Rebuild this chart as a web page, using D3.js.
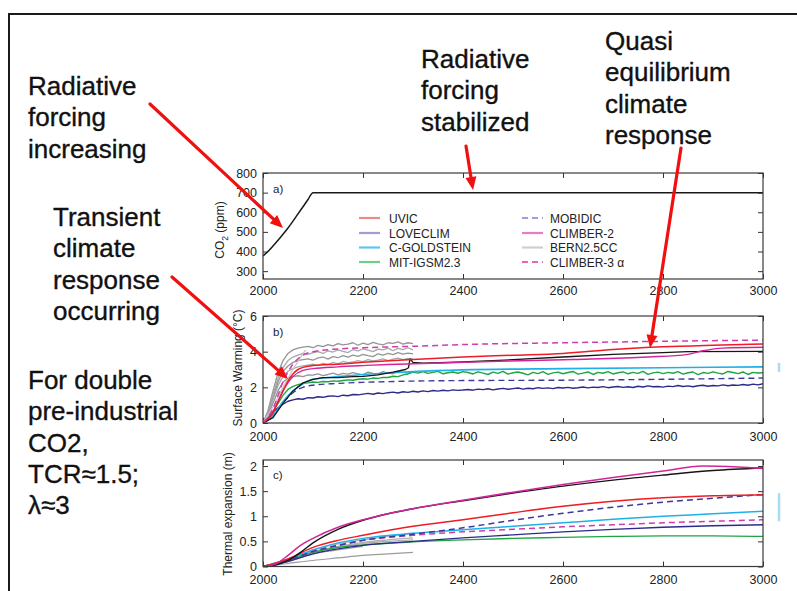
<!DOCTYPE html>
<html><head><meta charset="utf-8">
<script src="https://cdn.jsdelivr.net/npm/d3@7"></script>
<style>
body{margin:0;background:#fff}
svg{display:block}
text{font-family:"Liberation Sans",Arial,Helvetica,sans-serif}
</style>
</head><body>
<svg id="c" width="797" height="591"></svg>
<script>
// ---------------- DATA ----------------
const xTicks = [2000, 2200, 2400, 2600, 2800, 3000];
const co2Ticks = [300, 400, 500, 600, 700, 800];
const warmTicks = [0, 2, 4, 6];
const thermTicks = [0, 0.5, 1, 1.5, 2];

// panel a: CO2 (ppm)
const co2Years  = [2000, 2010, 2020, 2030, 2040, 2050, 2060, 2070, 2080, 2090, 2100, 3000];
const co2Values = [378, 400, 428, 457, 488, 520, 555, 592, 628, 665, 700, 700];

// panel b: surface warming, smooth series (years / values)
const uvicWYears = [2000, 2020, 2030, 2040, 2050, 2060, 2070, 2080, 2100, 2150, 2200, 2290, 2400, 2500, 2600, 2700, 2800, 2900, 3000];
const uvicW      = [0, 0.6, 1.2, 1.8, 2.35, 2.75, 3.0, 3.12, 3.22, 3.3, 3.4, 3.55, 3.7, 3.8, 3.9, 4.12, 4.27, 4.36, 4.43];
const climber2WYears = [2000, 2020, 2040, 2060, 2080, 2100, 2150, 2200, 2250, 2300, 2470, 2620, 2770, 2850, 2880, 2920, 3000];
const climber2W      = [0, 0.6, 1.8, 2.6, 2.95, 3.05, 3.15, 3.22, 3.28, 3.32, 3.46, 3.56, 3.7, 3.85, 4.05, 4.2, 4.25];
const climber3WYears = [2000, 2020, 2040, 2060, 2080, 2100, 2150, 2200, 2300, 2400, 2600, 2800, 3000];
const climber3W      = [0, 0.8, 2.3, 3.3, 3.8, 4.0, 4.15, 4.22, 4.3, 4.4, 4.5, 4.58, 4.65];
const goldWYears = [2000, 2020, 2040, 2060, 2080, 2100, 2150, 2200, 2250, 2300, 2400, 2600, 2800, 3000];
const goldW      = [0, 0.4, 1.2, 1.8, 2.2, 2.45, 2.6, 2.72, 2.8, 2.88, 2.98, 3.05, 3.1, 3.15];
const mobidicWYears = [2000, 2020, 2040, 2060, 2080, 2100, 2150, 2200, 2300, 2400, 2600, 2800, 3000];
const mobidicW      = [0, 0.45, 1.15, 1.7, 2.0, 2.12, 2.22, 2.28, 2.35, 2.38, 2.4, 2.45, 2.52];
const blackWYears = [2000, 2020, 2040, 2060, 2080, 2100, 2120, 2150, 2180, 2200, 2230, 2260, 2285, 2291, 2294, 2300, 2320, 2400, 2500, 2600, 2700, 2800, 2850, 3000];
const blackW      = [0, 0.3, 1.1, 1.8, 2.25, 2.45, 2.55, 2.55, 2.6, 2.62, 2.7, 2.85, 3.0, 3.1, 3.6, 3.4, 3.35, 3.42, 3.55, 3.7, 3.85, 3.95, 4.0, 4.02];

// panel b: noisy series, every 10 years from 2000
const loveclimW = [0.00,0.25,0.62,0.85,1.05,1.22,1.30,1.36,1.33,1.42,1.40,1.47,1.44,1.50,1.52,1.48,1.56,1.53,1.60,1.58,1.62,1.66,1.61,1.68,1.65,1.70,1.73,1.68,1.75,1.72,1.78,
  1.74,1.80,1.76,1.82,1.79,1.84,1.80,1.86,1.83,1.85,
  1.88,1.84,1.90,1.87,1.92,1.86,1.91,1.94,1.89,1.93,
  1.96,1.90,1.95,1.92,1.98,1.94,1.97,1.93,1.99,1.96,
  2.00,1.95,1.98,2.02,1.97,2.01,1.99,2.04,1.98,2.02,
  2.05,2.00,2.03,1.99,2.06,2.02,2.08,2.03,2.05,2.01,
  2.07,2.04,2.10,2.05,2.08,2.03,2.09,2.12,2.06,2.10,
  2.08,2.14,2.09,2.13,2.11,2.16,2.12,2.18,2.14,2.20];
const mitW = [0.00,0.25,0.65,1.10,1.55,1.88,2.05,2.15,2.22,2.25,2.30,2.28,2.33,2.31,2.36,2.34,2.38,2.42,2.40,2.45,2.48,2.46,2.52,2.50,2.56,2.55,2.62,2.60,2.70,2.75,2.85,
  2.80,2.88,2.78,2.84,2.90,2.76,2.82,2.86,2.79,2.88,
  2.83,2.75,2.87,2.80,2.72,2.85,2.78,2.90,2.74,2.82,
  2.86,2.79,2.70,2.84,2.77,2.88,2.73,2.81,2.85,2.76,
  2.83,2.89,2.74,2.80,2.86,2.72,2.84,2.79,2.88,2.75,
  2.82,2.87,2.76,2.84,2.78,2.90,2.73,2.81,2.85,2.77,
  2.84,2.79,2.88,2.74,2.82,2.86,2.71,2.83,2.78,2.87,
  2.80,2.75,2.89,2.83,2.77,2.86,2.72,2.84,2.80,2.82];
// BERN2.5CC ensemble (2000-2300, every 10 years)
const bernW1 = [0,0.7,1.8,2.8,3.5,3.9,4.1,4.2,4.25,4.3,4.22,4.35,4.28,4.4,4.32,4.45,4.38,4.42,4.5,4.36,4.48,4.4,4.52,4.44,4.38,4.5,4.46,4.55,4.42,4.5,4.45];
const bernW2 = [0,0.6,1.6,2.5,3.1,3.5,3.7,3.8,3.9,3.85,3.95,4.0,3.9,4.05,3.98,4.1,4.02,3.95,4.12,4.05,4.15,4.08,4.0,4.14,4.1,4.2,4.05,4.18,4.12,4.22,4.1];
const bernW3 = [0,0.5,1.4,2.3,2.9,3.2,3.4,3.5,3.55,3.6,3.52,3.65,3.7,3.58,3.72,3.66,3.78,3.7,3.8,3.74,3.85,3.78,3.72,3.88,3.8,3.9,3.84,3.95,3.86,3.92,3.88];
const bernW4 = [0,0.45,1.3,2.1,2.6,2.9,3.05,3.15,3.2,3.25,3.3,3.22,3.35,3.28,3.4,3.32,3.45,3.38,3.42,3.5,3.44,3.55,3.48,3.52,3.6,3.5,3.58,3.64,3.55,3.62,3.6];
const bernW5 = [0,0.4,1.1,1.8,2.3,2.5,2.6,2.65,2.6,2.7,2.68,2.75,2.66,2.72,2.8,2.7,2.78,2.74,2.82,2.76,2.7,2.85,2.78,2.74,2.88,2.8,2.76,2.9,2.84,2.8,2.86];
const bernSteepYears = [2000, 2020, 2040, 2060, 2080, 2086];
const bernSteep      = [0, 0.9, 2.0, 3.0, 3.9, 4.1];

// panel c: thermal expansion (m)
const thermYears = [2000, 2050, 2100, 2150, 2200, 2300, 2400, 2500, 2600, 2700, 2800, 2900, 3000];
const uvicT     = [0, 0.15, 0.38, 0.52, 0.62, 0.80, 0.93, 1.07, 1.20, 1.30, 1.37, 1.41, 1.43];
const mobidicT  = [0, 0.12, 0.30, 0.42, 0.52, 0.64, 0.77, 0.92, 1.06, 1.18, 1.28, 1.36, 1.43];
const goldT     = [0, 0.14, 0.33, 0.47, 0.56, 0.66, 0.73, 0.80, 0.87, 0.94, 1.00, 1.05, 1.10];
const climber3T = [0, 0.12, 0.30, 0.42, 0.52, 0.62, 0.69, 0.74, 0.79, 0.83, 0.87, 0.90, 0.93];
const loveclimT = [0, 0.10, 0.25, 0.35, 0.42, 0.50, 0.57, 0.63, 0.69, 0.74, 0.78, 0.81, 0.83];
const mitT      = [0, 0.12, 0.28, 0.38, 0.43, 0.49, 0.53, 0.56, 0.58, 0.60, 0.61, 0.61, 0.60];
const climber2TYears = [2000, 2025, 2050, 2075, 2100, 2150, 2200, 2250, 2300, 2400, 2500, 2600, 2700, 2800, 2880, 2950, 3000];
const climber2T      = [0, 0.05, 0.22, 0.42, 0.56, 0.78, 0.93, 1.05, 1.15, 1.32, 1.48, 1.63, 1.77, 1.90, 2.00, 1.98, 1.95];
const blackTYears = [2000, 2025, 2050, 2075, 2100, 2150, 2200, 2250, 2300, 2400, 2500, 2600, 2700, 2800, 2900, 3000];
const blackT      = [0, 0.03, 0.12, 0.28, 0.47, 0.74, 0.92, 1.05, 1.15, 1.31, 1.46, 1.60, 1.72, 1.82, 1.91, 1.96];
const bernTYears = [2000, 2050, 2100, 2150, 2200, 2250, 2300];
const bernT1 = [0, 0.15, 0.33, 0.45, 0.53, 0.60, 0.66];
const bernT2 = [0, 0.13, 0.30, 0.40, 0.48, 0.53, 0.57];
const bernT3 = [0, 0.12, 0.28, 0.38, 0.46, 0.50, 0.53];
const bernT4 = [0, 0.06, 0.12, 0.17, 0.22, 0.25, 0.28];
const bernT5Years = [2000, 2050, 2100, 2150, 2200];
const bernT5 = [0, 0.10, 0.25, 0.33, 0.40];

// light-blue range marks at the right of panels b and c
const rangeB = [2.86, 3.37];
const rangeC = [0.9, 1.46];

// legend
const legendNames = ["UVIC", "LOVECLIM", "C-GOLDSTEIN", "MIT-IGSM2.3", "MOBIDIC", "CLIMBER-2", "BERN2.5CC", "CLIMBER-3 \u03b1"];
const legendColors = ["#f08a8a", "#a49cd6", "#5cc6f0", "#6fcf86", "#a49cd6", "#e87cc6", "#cfcfcf", "#e466c4"];
const legendDashed = [false, false, false, false, true, false, false, true];

// annotations
const notes = [
  {lines: ["Radiative", "forcing", "increasing"], x: 28, y: 95},
  {lines: ["Radiative", "forcing", "stabilized"], x: 421, y: 68},
  {lines: ["Quasi", "equilibrium", "climate", "response"], x: 605, y: 50},
  {lines: ["Transient", "climate", "response", "occurring"], x: 53, y: 226},
  {lines: ["For double", "pre-industrial", "CO2,", "TCR\u22481.5;", "\u03bb\u22483"], x: 28, y: 389}
];
const arrows = [
  {from: [150, 104], to: [283, 228]},
  {from: [466, 146], to: [473, 190]},
  {from: [681, 148], to: [650, 348]},
  {from: [172, 277], to: [288, 379]}
];

// ---------------- DRAW ----------------
const svg = d3.select("#c");
const C = {red: "#ee1c24", navy: "#2d2a8c", blue: "#3b3a9c", cyan: "#1fb0ea", green: "#1fa444",
           mag: "#d4249c", mag3: "#d03cb0", gray: "#9a9a9a", black: "#151515"};

const x = d3.scaleLinear().domain([2000, 3000]).range([263, 763]);
const zip = (ys, vs) => ys.map((yr, i) => [yr, vs[i]]);
const every10 = (vs) => vs.map((v, i) => [2000 + 10 * i, v]);

// outer slide frame
svg.append("path").attr("d", "M9,591 L9,14 L797,14").attr("fill", "none").attr("stroke", "#1a1a1a").attr("stroke-width", 2);

function panel(id, y0, y1, domain, ticks, fmt, xPad) {
  const y = d3.scaleLinear().domain(domain).range([y0, y1]);
  const g = svg.append("g");
  const axStyle = sel => { sel.select(".domain").remove();
    sel.selectAll("line").attr("stroke", "#333");
    sel.selectAll("text").attr("font-size", "12.5px").attr("fill", "#222")
       .attr("font-family", '"Liberation Sans",Arial,sans-serif'); };
  g.append("g").attr("transform", `translate(0,${y0})`)
    .call(d3.axisBottom(x).tickValues(xTicks).tickSize(-5).tickSizeOuter(0).tickPadding(xPad).tickFormat(d3.format("d"))).call(axStyle);
  g.append("g").attr("transform", `translate(0,${y1})`)
    .call(d3.axisTop(x).tickValues(xTicks).tickSize(-5).tickSizeOuter(0).tickFormat("")).call(axStyle);
  g.append("g").attr("transform", `translate(${x(2000)},0)`)
    .call(d3.axisLeft(y).tickValues(ticks).tickSize(-5).tickSizeOuter(0).tickPadding(6).tickFormat(fmt)).call(axStyle);
  g.append("g").attr("transform", `translate(${x(3000)},0)`)
    .call(d3.axisRight(y).tickValues(ticks).tickSize(-5).tickSizeOuter(0).tickFormat("")).call(axStyle);
  svg.append("clipPath").attr("id", "clip" + id).append("rect")
    .attr("x", x(2000)).attr("y", y1).attr("width", x(3000) - x(2000)).attr("height", y0 - y1);
  const lg = svg.append("g").attr("clip-path", `url(#clip${id})`);
  const draw = (pts, color, opts = {}) => {
    const line = d3.line().x(d => x(d[0])).y(d => y(d[1])).curve(opts.linear ? d3.curveLinear : d3.curveMonotoneX);
    lg.append("path").datum(pts).attr("d", line).attr("fill", "none")
      .attr("stroke", color).attr("stroke-width", opts.w || 1.4)
      .attr("stroke-dasharray", opts.dash ? "6,4" : null)
      .attr("stroke-linejoin", "round").attr("opacity", opts.op || 1);
  };
  const frame = () => svg.append("rect").attr("x", x(2000)).attr("y", y1)
      .attr("width", x(3000) - x(2000)).attr("height", y0 - y1)
      .attr("fill", "none").attr("stroke", "#3a3a3a").attr("stroke-width", 1.2);
  return {y, draw, frame, g};
}

// ---- panel a
const pa = panel("a", 279, 173, [260, 800], co2Ticks, d3.format("d"), 7);
pa.draw(zip(co2Years, co2Values), "#1a1a1a", {linear: false, w: 1.5});
pa.frame();
svg.append("text").attr("x", 273).attr("y", 193).attr("font-size", "11.5px").attr("fill", "#222").text("a)");
const ta = svg.append("text").attr("transform", "translate(224,230) rotate(-90)").attr("text-anchor", "middle")
  .attr("font-size", "12px").attr("fill", "#222");
ta.append("tspan").text("CO");
ta.append("tspan").attr("font-size", "8.5px").attr("dy", 4).text("2");
ta.append("tspan").attr("dy", -4).text(" (ppm)");

// legend
const legRows = [218, 233, 247.5, 262];
legendNames.forEach((n, i) => {
  const col = i < 4 ? 0 : 1, row = i % 4;
  const lx = col ? 522 : 359, tx = col ? 550 : 389;
  svg.append("line").attr("x1", lx).attr("x2", lx + 21).attr("y1", legRows[row]).attr("y2", legRows[row])
    .attr("stroke", legendColors[i]).attr("stroke-width", 2.2).attr("stroke-dasharray", legendDashed[i] ? "6,4" : null);
  svg.append("text").attr("x", tx).attr("y", legRows[row] + 4.5).attr("font-size", "12px").attr("fill", "#222").text(n);
});

// ---- panel b
const pb = panel("b", 423, 316, [0, 6], warmTicks, d3.format("d"), 9);
[bernW1, bernW2, bernW3, bernW4, bernW5].forEach((s, i) => pb.draw(every10(s), i % 2 ? "#a8a8a8" : "#959595", {linear: true, w: 1.3}));
pb.draw(zip(bernSteepYears, bernSteep), "#c8c8c8", {linear: true, w: 1.3});
pb.draw(every10(loveclimW), C.navy, {linear: true, w: 1.4});
pb.draw(every10(mitW), C.green, {linear: true, w: 1.4});
pb.draw(zip(mobidicWYears, mobidicW), C.blue, {dash: true, w: 1.4});
pb.draw(zip(goldWYears, goldW), C.cyan, {w: 1.6});
pb.draw(zip(blackWYears, blackW), C.black, {linear: true, w: 1.3});
pb.draw(zip(climber2WYears, climber2W), C.mag, {w: 1.4});
pb.draw(zip(uvicWYears, uvicW), C.red, {w: 1.5});
pb.draw(zip(climber3WYears, climber3W), C.mag3, {dash: true, w: 1.5});
pb.frame();
svg.append("text").attr("x", 273).attr("y", 336).attr("font-size", "11.5px").attr("fill", "#222").text("b)");
svg.append("text").attr("transform", "translate(242,368) rotate(-90)").attr("text-anchor", "middle")
  .attr("font-size", "12px").attr("fill", "#222").text("Surface Warming (\u00b0C)");

// ---- panel c
const pc = panel("c", 566.5, 460, [0, 2.12], thermTicks, d3.format("~g"), 9);
[bernT1, bernT2, bernT3].forEach(s => pc.draw(zip(bernTYears, s), "#b0b0b0", {w: 1.3}));
pc.draw(zip(bernTYears, bernT4), "#9c9c9c", {w: 1.2});
pc.draw(zip(bernT5Years, bernT5), "#a0a0a0", {w: 1.2});
pc.draw(zip(thermYears, mitT), C.green, {w: 1.4});
pc.draw(zip(thermYears, loveclimT), C.navy, {w: 1.4});
pc.draw(zip(thermYears, climber3T), C.mag3, {dash: true, w: 1.5});
pc.draw(zip(thermYears, goldT), C.cyan, {w: 1.5});
pc.draw(zip(thermYears, mobidicT), C.blue, {dash: true, w: 1.5});
pc.draw(zip(thermYears, uvicT), C.red, {w: 1.5});
pc.draw(zip(blackTYears, blackT), C.black, {w: 1.4});
pc.draw(zip(climber2TYears, climber2T), C.mag, {w: 1.5});
pc.frame();
svg.append("text").attr("x", 273).attr("y", 479).attr("font-size", "11.5px").attr("fill", "#222").text("c)");
svg.append("text").attr("transform", "translate(232,514) rotate(-90)").attr("text-anchor", "middle")
  .attr("font-size", "12px").attr("fill", "#222").text("Thermal expansion (m)");

// light blue marks at the right
svg.append("line").attr("x1", 779).attr("x2", 779).attr("y1", pb.y(rangeB[0])).attr("y2", pb.y(rangeB[1])).attr("stroke", "#a6dcf4").attr("stroke-width", 2.5);
svg.append("line").attr("x1", 779).attr("x2", 779).attr("y1", pc.y(rangeC[0])).attr("y2", pc.y(rangeC[1])).attr("stroke", "#a6dcf4").attr("stroke-width", 2.5);

// annotations
notes.forEach(n => {
  const t = svg.append("text").attr("x", n.x).attr("y", n.y).attr("font-size", "26px").attr("fill", "#111")
    .attr("stroke", "#111").attr("stroke-width", 0.35);
  n.lines.forEach((l, i) => t.append("tspan").attr("x", n.x).attr("y", n.y + i * 31.3).text(l));
});

// red arrows
arrows.forEach(a => {
  const [x0, y0] = a.from, [x1, y1] = a.to;
  const ang = Math.atan2(y1 - y0, x1 - x0), L = 13, W = 5.5;
  const bx = x1 - L * Math.cos(ang), by = y1 - L * Math.sin(ang);
  svg.append("line").attr("x1", x0).attr("y1", y0).attr("x2", bx).attr("y2", by)
    .attr("stroke", "#f01010").attr("stroke-width", 3.2).attr("stroke-linecap", "round");
  const px = -Math.sin(ang) * W, py = Math.cos(ang) * W;
  svg.append("path").attr("d", `M${x1},${y1} L${bx + px},${by + py} L${bx - px},${by - py} Z`).attr("fill", "#f01010");
});
</script>
</body></html>
